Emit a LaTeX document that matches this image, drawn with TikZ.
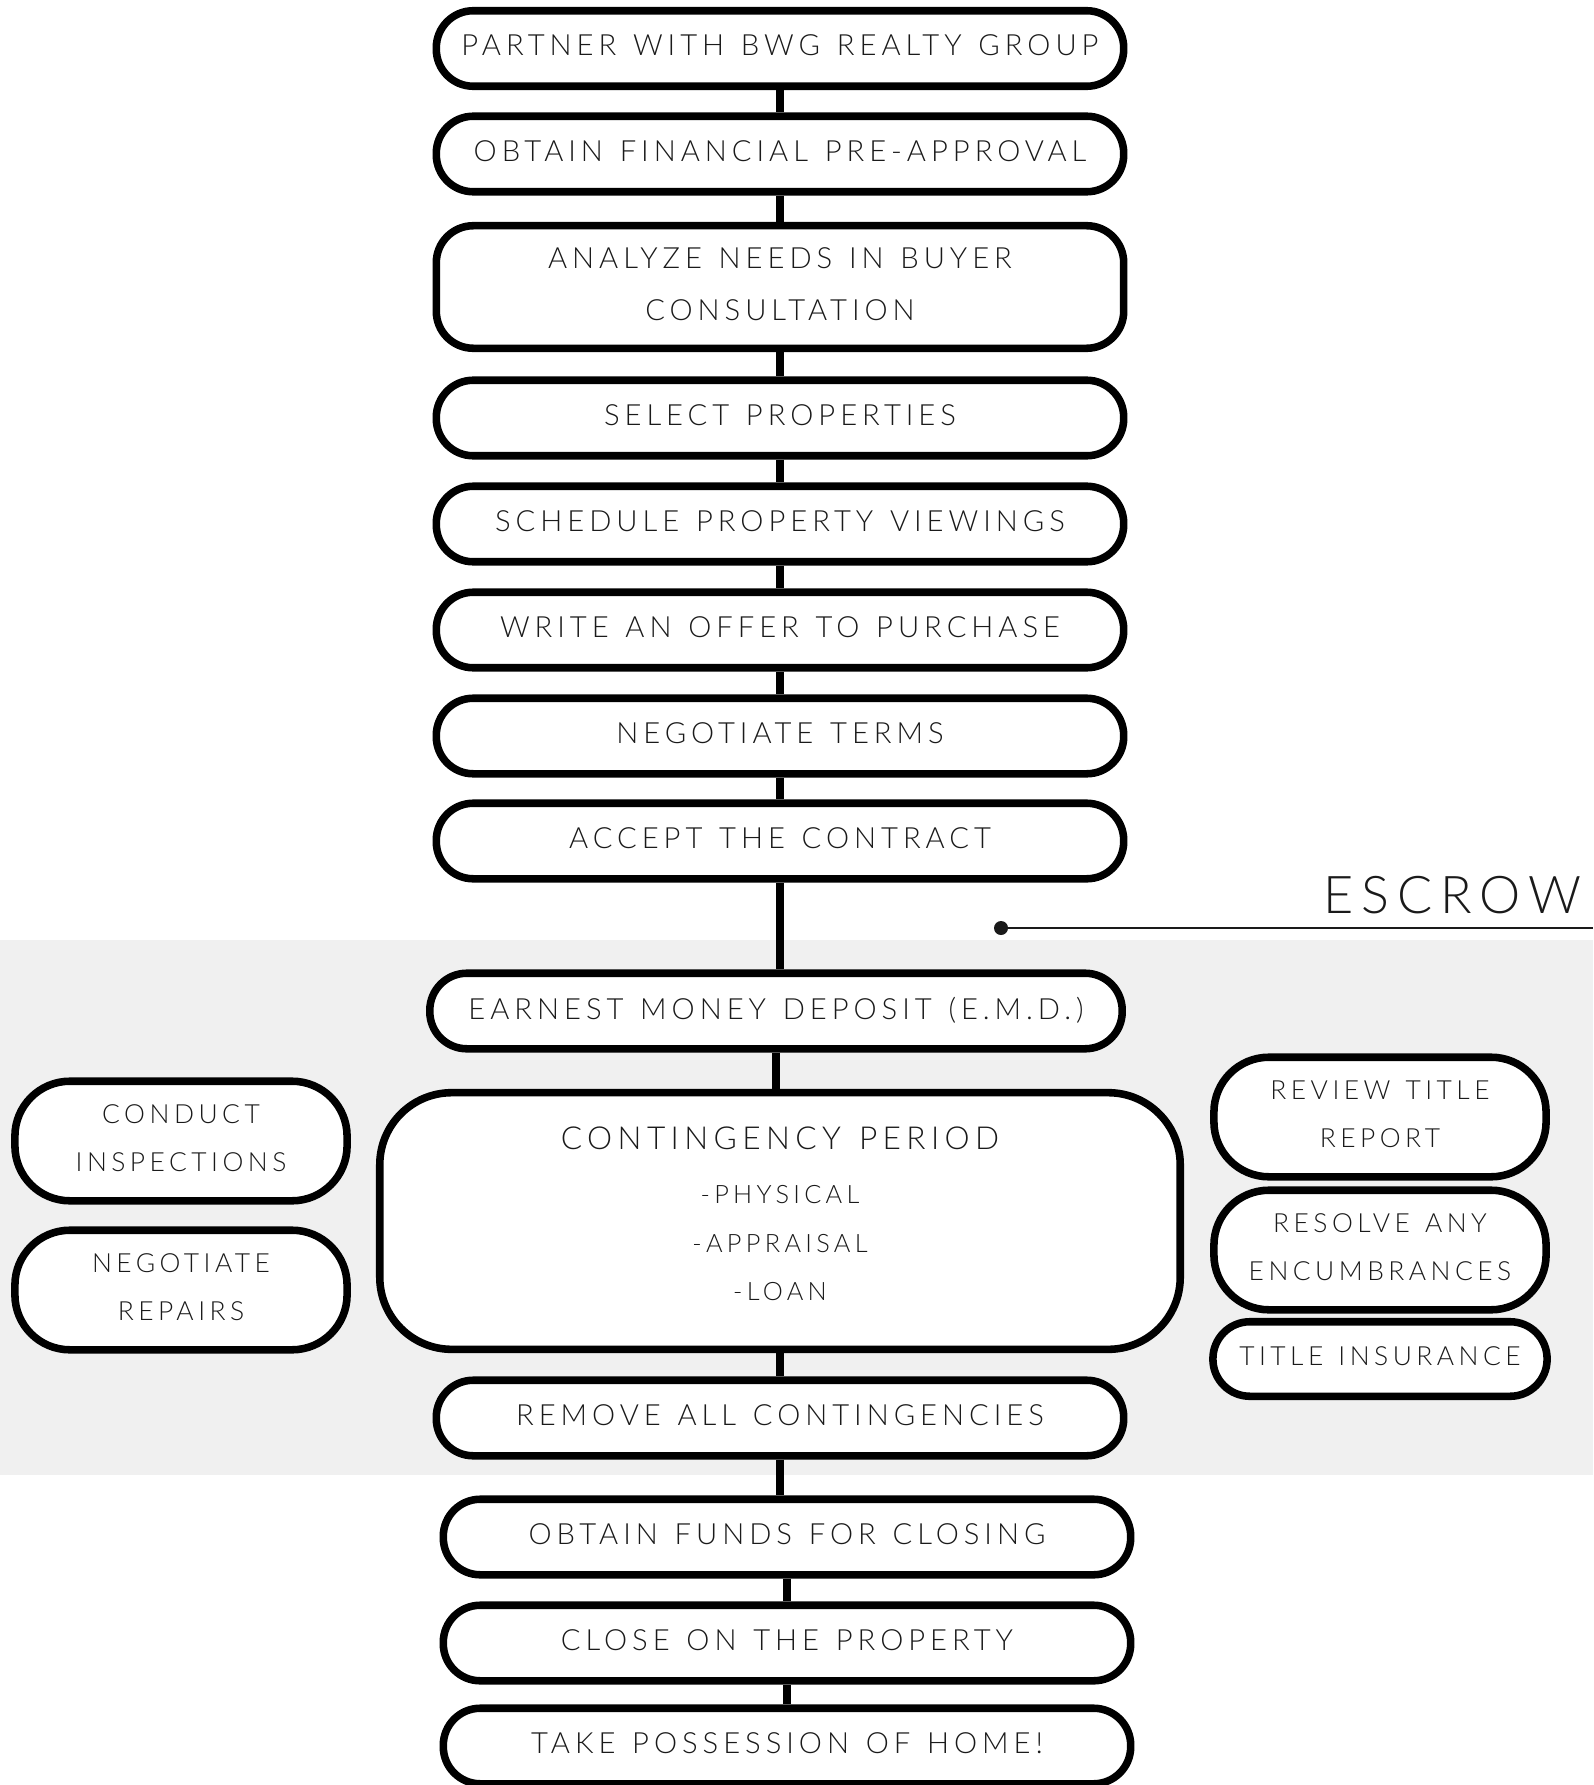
\documentclass[tikz,border=0pt]{standalone}
\usepackage{fontspec}
\newfontfamily\stepfont[LetterSpace=17,WordSpace=1.3]{Lato Light}
\newfontfamily\escrowfont[LetterSpace=15]{Lato Light}
\definecolor{inkc}{HTML}{1A1A1A}
\definecolor{bandc}{HTML}{F0F0F0}

\begin{document}
\begin{tikzpicture}[x=0.01cm,y=-0.01cm,
    stepbox/.style={draw=black,line width=2.15pt,fill=white,rounded corners=0.37cm,minimum width=6.87cm,minimum height=0.755cm,inner sep=0pt,text depth=0.06cm,align=center,text=inkc,font=\stepfont\fontsize{8.3}{14.8}\selectfont},
    sidebox/.style={stepbox,rounded corners=0.55cm,minimum width=3.32cm,minimum height=1.195cm,font=\stepfont\fontsize{7.5}{13.7}\selectfont},
    escrowlbl/.style={inner sep=0pt,text=inkc,font=\escrowfont\fontsize{14.8}{16}\selectfont},
    link/.style={line width=2.2pt}]
  \useasboundingbox (0,0) rectangle (1593,1785);
  \fill[bandc] (0,940) rectangle (1593,1475);
  \foreach \n/\y/\t in {partner/48.5/{PARTNER WITH BWG REALTY GROUP},preapp/154/{OBTAIN FINANCIAL PRE-APPROVAL},select/418/{SELECT PROPERTIES},schedule/524/{SCHEDULE PROPERTY VIEWINGS},offer/630/{WRITE AN OFFER TO PURCHASE},terms/736/{NEGOTIATE TERMS},accept/841/{ACCEPT THE CONTRACT}}
    \node[stepbox] (\n) at (780,\y) {\t};
  \node[stepbox,minimum height=1.225cm] (analyze) at (780,287) {ANALYZE NEEDS IN BUYER\\CONSULTATION};
  \node[stepbox,minimum width=6.92cm] (emd) at (776,1011) {EARNEST MONEY DEPOSIT (E.M.D.)};
  \node[stepbox,rounded corners=0.72cm,minimum width=8cm,minimum height=2.565cm,text depth=0.14cm,font=\stepfont\fontsize{7.2}{13.8}\selectfont] (contin) at (780,1221) {{\fontsize{9}{13.8}\selectfont CONTINGENCY PERIOD}\\[1.6pt]-PHYSICAL\\-APPRAISAL\\-LOAN};
  \node[sidebox] (inspect) at (181,1141) {CONDUCT\\INSPECTIONS};
  \node[sidebox] (repairs) at (181,1290) {NEGOTIATE\\REPAIRS};
  \node[sidebox] (titlerep) at (1380,1117) {REVIEW TITLE\\REPORT};
  \node[sidebox] (encumb) at (1380,1250) {RESOLVE ANY\\ENCUMBRANCES};
  \node[sidebox,rounded corners=0.37cm,minimum width=3.34cm,minimum height=0.745cm] (titleins) at (1380,1359) {TITLE INSURANCE};
  \foreach \n/\x/\y/\t in {remove/780/1418/{REMOVE ALL CONTINGENCIES},funds/787/1537/{OBTAIN FUNDS FOR CLOSING},closing/787/1643/{CLOSE ON THE PROPERTY},possess/787/1746/{TAKE POSSESSION OF HOME!}}
    \node[stepbox] (\n) at (\x,\y) {\t};
  \foreach \a/\b in {partner/preapp,preapp/analyze,analyze/select,select/schedule,schedule/offer,offer/terms,terms/accept,accept/emd,emd/contin,contin/remove,remove/funds,funds/closing,closing/possess}
    \draw[link] (\a.south) -- (\a.south |- \b.north);
  \node[escrowlbl,anchor=base east] (escrow) at (1582,913) {ESCROW};
  \coordinate (escdot) at (1001,928);
  \coordinate (escend) at (1593,928);
  \draw[line width=0.7pt,inkc] (escdot) -- (escend);
  \fill[inkc] (escdot) circle (0.07cm);
\end{tikzpicture}
\end{document}
